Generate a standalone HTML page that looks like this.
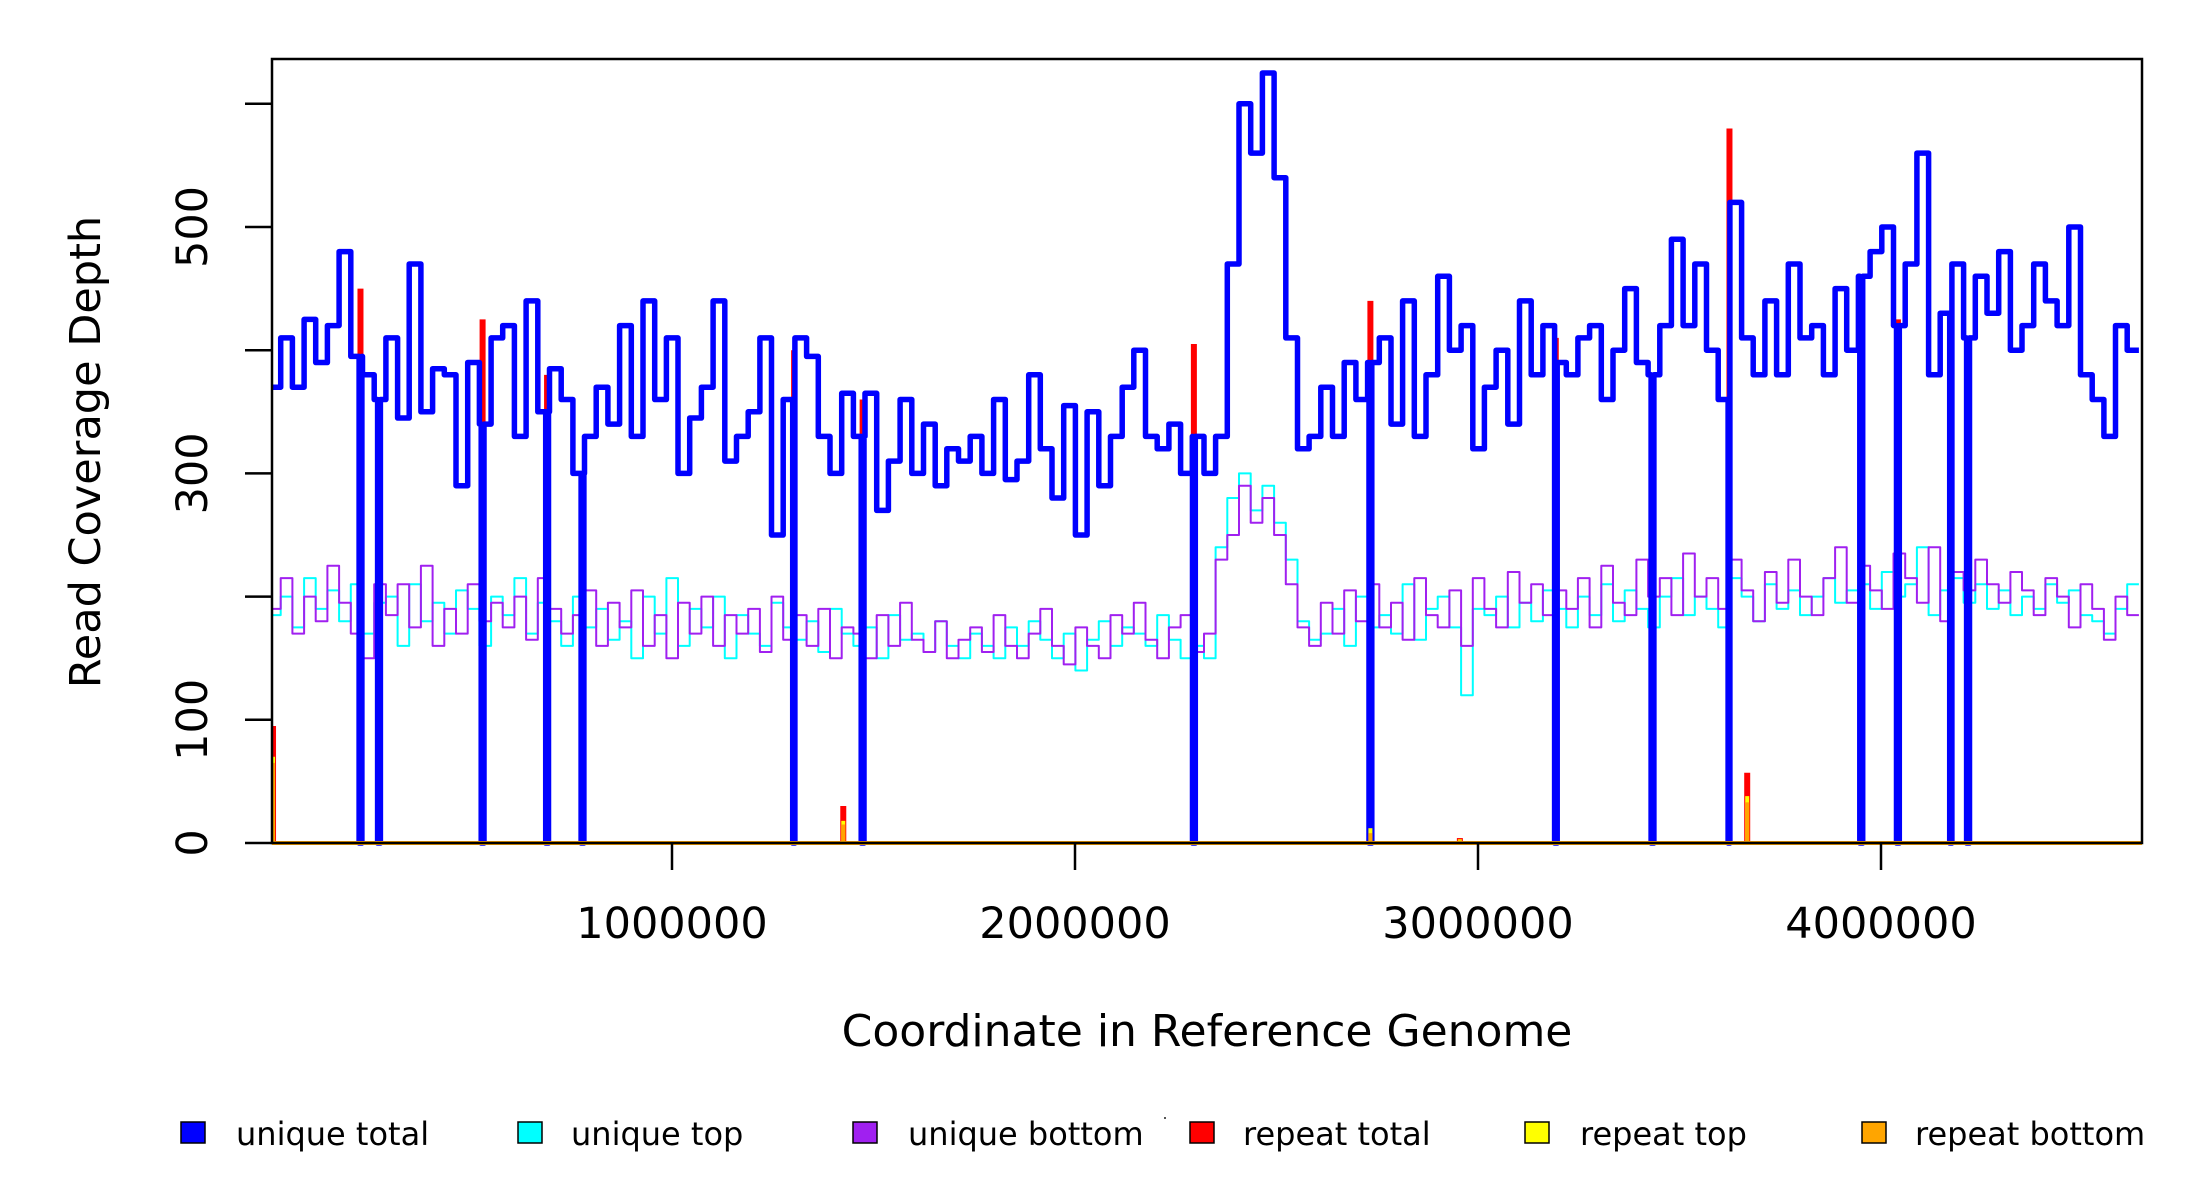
<!DOCTYPE html>
<html><head><meta charset="utf-8"><style>
html,body{margin:0;padding:0;background:#fff;}
svg{display:block;font-family:"DejaVu Sans","Liberation Sans",sans-serif;}
</style></head><body>
<svg id="chart" width="2200" height="1200" viewBox="0 0 2200 1200" xmlns="http://www.w3.org/2000/svg">
<defs><clipPath id="plotclip"><rect x="272" y="59" width="1870" height="800"/></clipPath></defs>
<g id="series" clip-path="url(#plotclip)"></g>
<rect x="272" y="59" width="1870" height="784" fill="none" stroke="#000" stroke-width="2.5"/>
<g id="axes"></g>
<text x="1207" y="1046" font-size="44" text-anchor="middle">Coordinate in Reference Genome</text>
<text transform="translate(100,452) rotate(-90)" font-size="43" text-anchor="middle">Read Coverage Depth</text>
<g>
<g><rect x="181" y="1122" width="24" height="21" fill="#0000ff" stroke="#000" stroke-width="1.5"/><text x="236" y="1145" font-size="32">unique total</text></g>
<g><rect x="518" y="1122" width="24" height="21" fill="#00ffff" stroke="#000" stroke-width="1.5"/><text x="571" y="1145" font-size="32">unique top</text></g>
<g><rect x="853" y="1122" width="24" height="21" fill="#a020f0" stroke="#000" stroke-width="1.5"/><text x="908" y="1145" font-size="32">unique bottom</text></g>
<rect x="1164" y="1117" width="2" height="2" fill="#555"/>
<g><rect x="1190" y="1122" width="24" height="21" fill="#ff0000" stroke="#000" stroke-width="1.5"/><text x="1243" y="1145" font-size="32">repeat total</text></g>
<g><rect x="1525" y="1122" width="24" height="21" fill="#ffff00" stroke="#000" stroke-width="1.5"/><text x="1580" y="1145" font-size="32">repeat top</text></g>
<g><rect x="1862" y="1122" width="24" height="21" fill="#ffa500" stroke="#000" stroke-width="1.5"/><text x="1915" y="1145" font-size="32">repeat bottom</text></g>
</g>
</svg>
<script>
const binSize = 29000;
const uniqueTotal = [370,410,370,425,390,420,480,395,380,360,
410,345,470,350,385,380,290,390,340,410,
420,330,440,350,385,360,300,330,370,340,
420,330,440,360,410,300,345,370,440,310,
330,350,410,250,360,410,395,330,300,365,
330,365,270,310,360,300,340,290,320,310,
330,300,360,295,310,380,320,280,355,250,
350,290,330,370,400,330,320,340,300,330,
300,330,470,600,560,625,540,410,320,330,
370,330,390,360,390,410,340,440,330,380,
460,400,420,320,370,400,340,440,380,420,
390,380,410,420,360,400,450,390,380,420,
490,420,470,400,360,520,410,380,440,380,
470,410,420,380,450,400,460,480,500,420,
470,560,380,430,470,410,460,430,480,400,
420,470,440,420,500,380,360,330,420,400];
const uniqueTop = [185,200,175,215,190,205,180,210,170,195,
200,160,210,180,195,170,205,190,160,200,
185,215,170,195,180,160,200,175,190,165,
180,150,200,170,215,160,190,175,200,150,
185,170,160,195,175,165,180,155,190,170,
160,175,150,185,165,170,155,180,160,150,
170,160,150,175,160,180,165,150,170,140,
165,180,160,175,170,160,185,165,150,160,
150,240,280,300,270,290,260,230,180,165,
170,190,160,200,175,185,170,210,165,190,
200,175,120,190,185,200,175,195,180,205,
190,175,200,185,210,180,205,190,175,200,
215,185,200,190,175,215,200,180,210,190,
205,185,200,215,195,205,210,190,220,200,
210,240,185,205,215,195,210,190,205,185,
200,190,210,195,205,185,180,170,190,210];
const uniqueBottom = [190,215,170,200,180,225,195,170,150,210,
185,210,175,225,160,190,170,210,180,195,
175,200,165,215,190,170,185,205,160,195,
175,205,160,185,150,195,170,200,160,185,
170,190,155,200,165,185,160,190,150,175,
170,150,185,160,195,165,155,180,150,165,
175,155,185,160,150,170,190,160,145,175,
160,150,185,170,195,165,150,175,185,155,
170,230,250,290,260,280,250,210,175,160,
195,170,205,180,210,175,195,165,215,185,
175,205,160,215,190,175,220,195,210,185,
205,190,215,175,225,195,185,230,200,215,
185,235,200,215,190,230,205,180,220,195,
230,200,185,215,240,195,225,205,190,235,
215,195,240,180,220,205,230,210,195,220,
205,185,215,200,175,210,190,165,200,185];
const dropoutPos = [227000,273000,530000,690000,778000,1303000,1473000,2295000,2733000,3193000,3433000,3624000,3951000,4042000,4174000,4216000];
const repeatPos = [10000,227000,530000,690000,1303000,1425000,1473000,2295000,2733000,2955000,3193000,3624000,3668000,3951000,4042000,4174000,4216000];
const repeatTotal = [95,450,425,380,400,30,360,405,440,4,410,580,57,415,425,405,405];
const repeatBottomVals = [65,0,0,0,0,15,0,0,8,2,0,0,33,0,0,0,0];
const repeatTopVals = [70,0,0,0,0,18,0,0,12,3,0,0,38,0,0,0,0];
const yTicks = [0,100,200,300,400,500,600];
const yTickLabels = ["0","100","","300","","500",""];
const xTicks = [1000000,2000000,3000000,4000000];
const xTickLabels = ["1000000","2000000","3000000","4000000"];

const NS = "http://www.w3.org/2000/svg";
function xs(g){ return 269 + g*403/1e6; }
function ys(v){ return 843 - v*1.232; }
const genomeEnd = uniqueTotal.length*binSize;

function stepPath(vals){
  let d = "";
  let first = true;
  for(let i=0;i<vals.length;i++){
    const s = i*binSize, e = Math.min((i+1)*binSize, genomeEnd);
    const y = ys(vals[i]);
    const drops = dropoutPos.filter(p=>p>=s && p<e);
    let cur = s;
    for(const p of drops){
      const a = Math.max(s, p-3500), b = Math.min(e, p+3500);
      d += (first? "M":"L") + xs(cur).toFixed(1)+","+y.toFixed(1)+" L"+xs(a).toFixed(1)+","+y.toFixed(1);
      first=false;
      d += " L"+xs(a).toFixed(1)+","+ys(0).toFixed(1)+" L"+xs(b).toFixed(1)+","+ys(0).toFixed(1);
      cur = b;
    }
    d += (first? "M":" L") + xs(cur).toFixed(1)+","+y.toFixed(1)+" L"+xs(e).toFixed(1)+","+y.toFixed(1)+" ";
    first=false;
  }
  return d;
}
const layer = document.getElementById("series");
function addPath(d, color, w, name){
  const p = document.createElementNS(NS,"path");
  p.setAttribute("d", d);
  p.setAttribute("fill","none");
  p.setAttribute("stroke",color);
  p.setAttribute("stroke-width",w);
  p.setAttribute("stroke-linejoin","round");
  
  
  layer.appendChild(p);
}
repeatPos.forEach((p,i)=>{
  const l = document.createElementNS(NS,"line");
  l.setAttribute("x1", xs(p)); l.setAttribute("x2", xs(p));
  l.setAttribute("y1", ys(0)); l.setAttribute("y2", ys(repeatTotal[i]));
  l.setAttribute("stroke","#ff0000"); l.setAttribute("stroke-width","6");
  
  
  layer.appendChild(l);
});
addPath(stepPath(uniqueTop), "#00ffff", 2, "unique-top-line");
addPath(stepPath(uniqueBottom), "#a020f0", 2, "unique-bottom-line");
addPath(stepPath(uniqueTotal), "#0000ff", 5.5, "unique-total-line");
repeatPos.forEach((p,i)=>{
  if(repeatTopVals[i]>0){
    const l = document.createElementNS(NS,"line");
    l.setAttribute("x1", xs(p)); l.setAttribute("x2", xs(p));
    l.setAttribute("y1", ys(0)); l.setAttribute("y2", ys(repeatTopVals[i]));
    l.setAttribute("stroke","#ffff00"); l.setAttribute("stroke-width","4");
    
    
    layer.appendChild(l);
  }
  if(repeatBottomVals[i]>0){
    const l = document.createElementNS(NS,"line");
    l.setAttribute("x1", xs(p)); l.setAttribute("x2", xs(p));
    l.setAttribute("y1", ys(0)); l.setAttribute("y2", ys(repeatBottomVals[i]));
    l.setAttribute("stroke","#ffa500"); l.setAttribute("stroke-width","4");
    
    
    layer.appendChild(l);
  }
});
const base = document.createElementNS(NS,"line");
base.setAttribute("x1", xs(0)); base.setAttribute("x2", 2142);
base.setAttribute("y1", ys(0)); base.setAttribute("y2", ys(0));
base.setAttribute("stroke","#ffa500"); base.setAttribute("stroke-width","4");


layer.appendChild(base);

const axes = document.getElementById("axes");
yTicks.forEach((v,i)=>{
  const t = document.createElementNS(NS,"line");
  t.setAttribute("x1",245); t.setAttribute("x2",272);
  t.setAttribute("y1",ys(v)); t.setAttribute("y2",ys(v));
  t.setAttribute("stroke","#000"); t.setAttribute("stroke-width","2.5");
  
  
  axes.appendChild(t);
  if(yTickLabels[i]){
    const tx = document.createElementNS(NS,"text");
    tx.setAttribute("transform","translate(207,"+ys(v)+") rotate(-90)");
    tx.setAttribute("font-size","43");
    tx.setAttribute("text-anchor","middle");
    tx.textContent = yTickLabels[i];
    
    
    axes.appendChild(tx);
  }
});
xTicks.forEach((g,i)=>{
  const t = document.createElementNS(NS,"line");
  t.setAttribute("x1",xs(g)); t.setAttribute("x2",xs(g));
  t.setAttribute("y1",843); t.setAttribute("y2",870);
  t.setAttribute("stroke","#000"); t.setAttribute("stroke-width","2.5");
  
  
  axes.appendChild(t);
  const tx = document.createElementNS(NS,"text");
  tx.setAttribute("x",xs(g)); tx.setAttribute("y",938);
  tx.setAttribute("font-size","43");
  tx.setAttribute("text-anchor","middle");
  tx.textContent = xTickLabels[i];
  
  
  axes.appendChild(tx);
});
</script>
</body></html>
